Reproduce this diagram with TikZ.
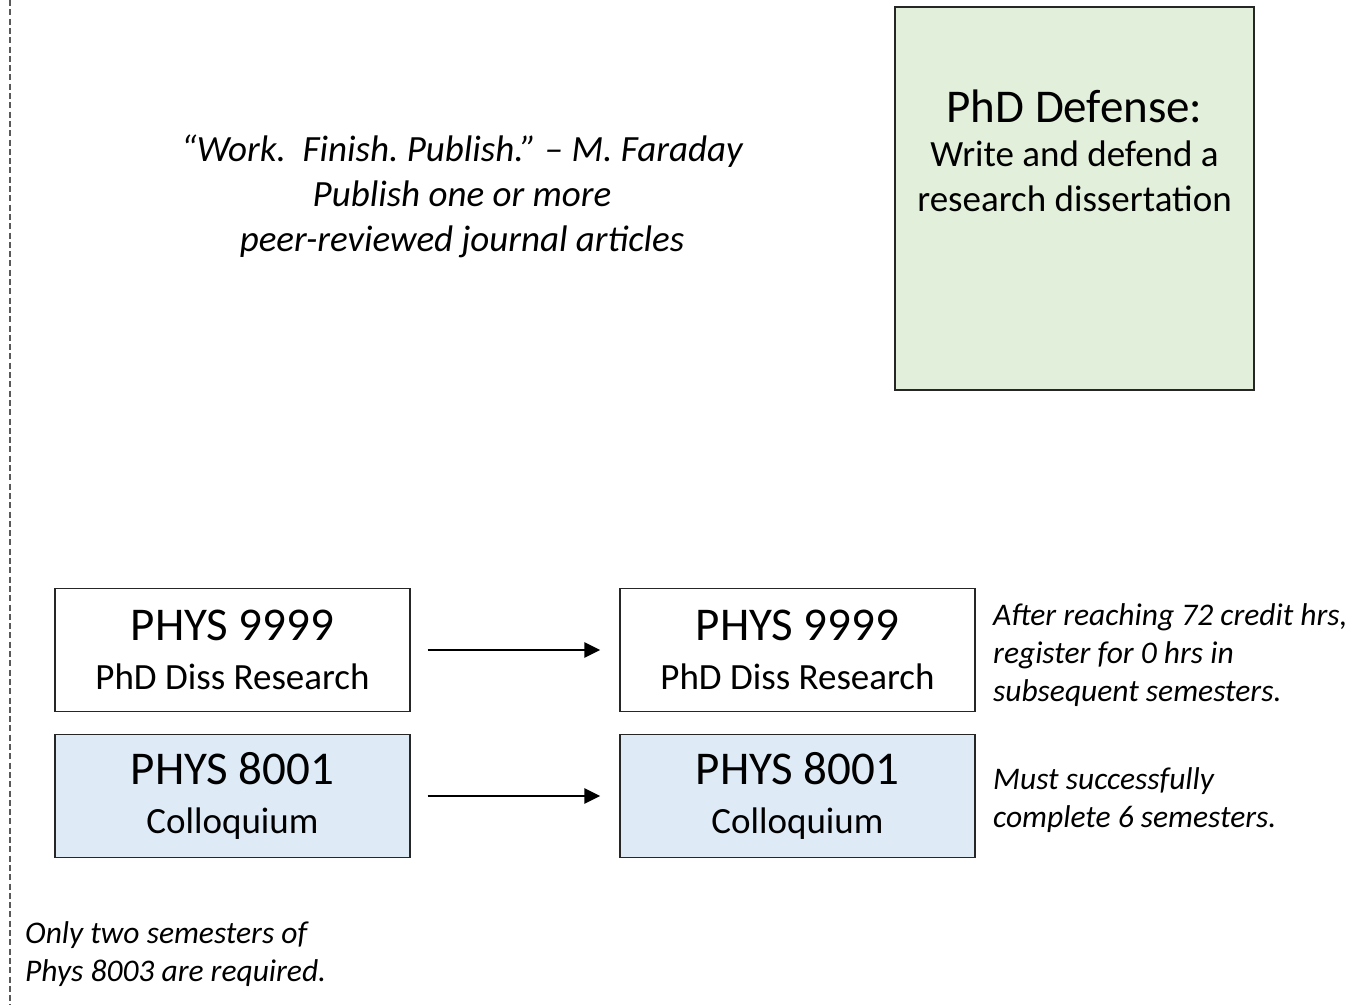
\documentclass[tikz,border=0pt]{standalone}
\usepackage{fontspec}
\setmainfont{Carlito}
\usepackage{tikz}
\usetikzlibrary{arrows.meta}
\usetikzlibrary{positioning}
\definecolor{defensegreen}{RGB}{226,239,218}
\definecolor{courseblue}{RGB}{222,235,247}
\definecolor{boxline}{gray}{.15}
\frenchspacing
\newcommand{\widthcourse}{355}
\newcommand{\heightcourse}{123}
\newcommand{\gapcourse}{210}
\newcommand{\bigtext}{\fontsize{47}{47}\selectfont}
\newcommand{\midtext}{\fontsize{37}{49}\selectfont}
\newcommand{\defensetext}{\fontsize{37}{44.5}\selectfont}
\newcommand{\notetext}{\fontsize{31.5}{38}\selectfont\itshape}
\newcommand{\quotetext}{\fontsize{37}{45}\selectfont\itshape}
\tikzset{
    common/.style={draw=boxline, line width=1.3pt, rectangle, inner sep=0pt},
    course/.style={common, minimum width=\widthcourse, minimum height=\heightcourse, align=center, font=\midtext},
    colloq/.style={course, fill=courseblue},
    defense/.style={common, fill=defensegreen, minimum width=359, minimum height=383},
    note/.style={anchor=base west, align=left, font=\notetext, inner sep=0pt},
    next/.style={-{Triangle[length=16pt, width=15pt]}, line width=2.8pt, shorten <=17pt, shorten >=19pt},
    divider/.style={gray!70!black, line width=1.2pt, dash pattern=on 6pt off 3.3pt}
}

\begin{document}
\begin{tikzpicture}[x=1pt, y=-1pt]
    \useasboundingbox (0,0) rectangle (1372,1005);

    \draw[divider] (10,0) -- (10,1005);

    % quote and defense
    \node[align=center, font=\quotetext, anchor=base] (quote) at (462,251)
        {``Work.\ \ Finish. Publish.'' -- M. Faraday\\Publish one or more\\peer-reviewed journal articles};
    \node[defense] (defense) at (1074.5,198.5) {};
    \node[align=center, font=\defensetext, anchor=base] (defense-text) at (1074.5,211)
        {{\bigtext PhD Defense:}\\Write and defend a\\research dissertation};

    % courses
    \path
        (232.5,650) node[course] (diss-first) {{\bigtext PHYS 9999}\\PhD Diss Research}
        ++(0:\widthcourse + \gapcourse) node[course] (diss-next) {{\bigtext PHYS 9999}\\PhD Diss Research}
        (232.5,796) node[colloq] (colloq-first) {{\bigtext PHYS 8001}\\Colloquium}
        ++(0:\widthcourse + \gapcourse) node[colloq] (colloq-next) {{\bigtext PHYS 8001}\\Colloquium};

    \draw[next] (diss-first) -- (diss-next);
    \draw[next] (colloq-first) -- (colloq-next);

    % notes
    \node[note] (diss-note) at (993,701) {After reaching 72 credit hrs,\\register for 0 hrs in\\subsequent semesters.};
    \node[note] (colloq-note) at (993,827) {Must successfully\\complete 6 semesters.};
    \node[note] (seminar-note) at (25,981) {Only two semesters of\\Phys 8003 are required.};
\end{tikzpicture}
\end{document}
